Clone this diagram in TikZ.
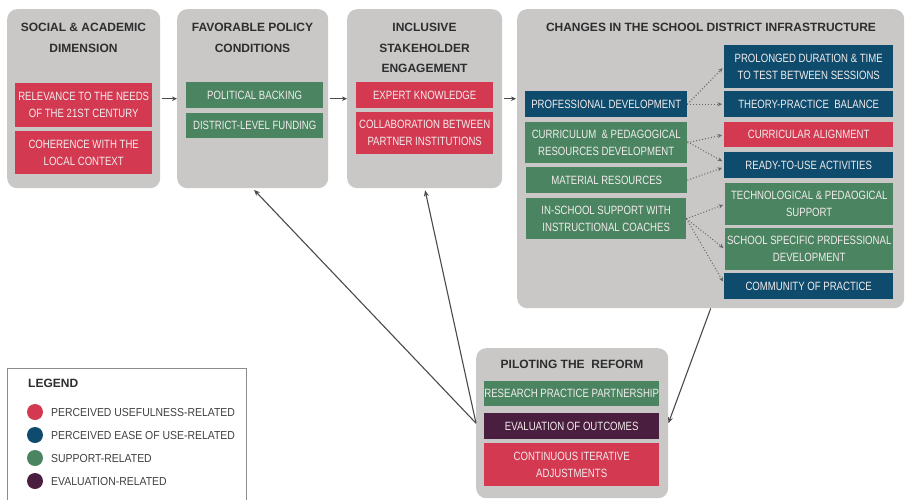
\documentclass[tikz,border=0pt]{standalone}
\usepackage{fontspec}
\setmainfont{Liberation Sans}
\newfontfamily\boxfont[FakeStretch=0.80]{Liberation Sans}
\newfontfamily\keyfont[FakeStretch=0.90]{Liberation Sans}
\usetikzlibrary{arrows.meta}

\definecolor{panelgray}{HTML}{C9C8C7}
\definecolor{usered}{HTML}{D33A51}
\definecolor{easeblue}{HTML}{0E4B6C}
\definecolor{supgreen}{HTML}{4A8461}
\definecolor{evalpurple}{HTML}{4A1E3F}
\definecolor{boxtext}{HTML}{F2ECEC}
\definecolor{titletext}{HTML}{2E2E2E}
\definecolor{linkgray}{HTML}{4A4A4A}

\tikzset{
  panel/.style={fill=panelgray, draw=none, rounded corners=10pt, anchor=north west, inner sep=0pt},
  paneltitle/.style={anchor=north, inner sep=0pt, align=center, text=titletext,
    font=\bfseries\fontsize{12}{20.5}\selectfont},
  tile/.style={anchor=north west, inner sep=0pt, align=center, text=boxtext,
    font=\boxfont\fontsize{12}{17}\selectfont},
  usebox/.style={tile, fill=usered},
  easebox/.style={tile, fill=easeblue},
  supbox/.style={tile, fill=supgreen},
  evalbox/.style={tile, fill=evalpurple},
  flow/.style={draw=linkgray, line width=1pt, -{Stealth[length=5pt,width=4.5pt]}},
  feed/.style={draw=linkgray, line width=1.1pt, -{Stealth[length=6pt,width=5pt]}},
  branch/.style={draw=linkgray!85, line width=1pt, dotted, -{Stealth[length=4.5pt,width=4pt]}},
  legtext/.style={anchor=west, inner sep=0pt, text=black!75, font=\keyfont\fontsize{11.6}{13}\selectfont},
  legdot/.style={circle, inner sep=0pt, minimum size=16pt, draw=none},
}

\begin{document}
\begin{tikzpicture}[x=1pt, y=-1pt]
\clip (0,0) rectangle (905,499);
\fill[white] (0,0) rectangle (905,499);

% ---- panels ----
\node[panel, minimum width=153pt, minimum height=179pt] (p1) at (7,9) {};
\node[panel, minimum width=151pt, minimum height=179pt] (p2) at (177,9) {};
\node[panel, minimum width=155pt, minimum height=179pt] (p3) at (347,9) {};
\node[panel, minimum width=387pt, minimum height=299pt] (p4) at (517,9) {};
\node[panel, minimum width=192pt, minimum height=150pt] (p5) at (476,348) {};

% ---- panel titles ----
\node[paneltitle] (t1) at (83.5,23) {SOCIAL \& ACADEMIC\\DIMENSION};
\node[paneltitle] (t2) at (252.5,23) {FAVORABLE POLICY\\CONDITIONS};
\node[paneltitle] (t3) at (424.5,23) {INCLUSIVE\\STAKEHOLDER\\ENGAGEMENT};
\node[paneltitle] (t4) at (711,23) {CHANGES IN THE SCHOOL DISTRICT INFRASTRUCTURE};
\node[paneltitle] (t5) at (572,360) {PILOTING THE \ REFORM};

% ---- social & academic dimension ----
\node[usebox, minimum width=137pt, minimum height=44pt] (relev) at (15,83) {RELEVANCE TO THE NEEDS\\OF THE 21ST CENTURY};
\node[usebox, minimum width=137pt, minimum height=43pt] (coher) at (15,131) {COHERENCE WITH THE\\LOCAL CONTEXT};

% ---- favorable policy conditions ----
\node[supbox, minimum width=137pt, minimum height=26pt] (polit) at (186,82) {POLITICAL BACKING};
\node[supbox, minimum width=137pt, minimum height=25pt] (fund) at (186,113) {DISTRICT-LEVEL FUNDING};

% ---- inclusive stakeholder engagement ----
\node[usebox, minimum width=137pt, minimum height=26pt] (expert) at (356,82) {EXPERT KNOWLEDGE};
\node[usebox, minimum width=137pt, minimum height=42pt] (collab) at (356,112) {COLLABORATION BETWEEN\\PARTNER INSTITUTIONS};

% ---- school district infrastructure: left column ----
\node[easebox, minimum width=162pt, minimum height=26pt] (profdev) at (525,91) {PROFESSIONAL DEVELOPMENT};
\node[supbox, minimum width=162pt, minimum height=41pt] (curric) at (525,122) {CURRICULUM \ \& PEDAGOGICAL\\RESOURCES DEVELOPMENT};
\node[supbox, minimum width=161pt, minimum height=26pt] (mater) at (526,167) {MATERIAL RESOURCES};
\node[supbox, minimum width=160pt, minimum height=41pt] (inschool) at (526,198) {IN-SCHOOL SUPPORT WITH\\INSTRUCTIONAL COACHES};

% ---- school district infrastructure: right column ----
\node[easebox, minimum width=169pt, minimum height=43pt] (prolong) at (724,45) {PROLONGED DURATION \& TIME\\TO TEST BETWEEN SESSIONS};
\node[easebox, minimum width=169pt, minimum height=26pt] (theory) at (724,91) {THEORY-PRACTICE \ BALANCE};
\node[usebox, minimum width=169pt, minimum height=25pt] (align) at (724,122) {CURRICULAR ALIGNMENT};
\node[easebox, minimum width=169pt, minimum height=26pt] (ready) at (724,152) {READY-TO-USE ACTIVITIES};
\node[supbox, minimum width=168pt, minimum height=42pt] (techsup) at (725,183) {TECHNOLOGICAL \& PEDAOGICAL\\SUPPORT};
\node[supbox, minimum width=168pt, minimum height=42pt] (schoolpd) at (725,228) {SCHOOL SPECIFIC PRDFESSIONAL\\DEVELOPMENT};
\node[easebox, minimum width=169pt, minimum height=26pt] (community) at (724,273) {COMMUNITY OF PRACTICE};

% ---- piloting the reform ----
\node[supbox, minimum width=175pt, minimum height=25pt] (rpp) at (484,381) {RESEARCH PRACTICE PARTNERSHIP};
\node[evalbox, minimum width=175pt, minimum height=26pt] (evalout) at (484,413) {EVALUATION OF OUTCOMES};
\node[usebox, minimum width=175pt, minimum height=43pt] (iter) at (484,443) {CONTINUOUS ITERATIVE\\ADJUSTMENTS};

% ---- main flow between panels ----
\draw[flow, shorten <=2pt] (p1.east) -- (p2.west);
\draw[flow, shorten <=2pt] (p2.east) -- (p3.west);
\draw[flow, shorten <=2pt, shorten >=1pt] (p3.east) -- (p3.east -| p4.west);

% ---- feedback from piloting ----
\draw[feed] (p4.south) -- (p5.east);
\draw[feed, shorten >=2pt] (p5.west) -- (p2.south);
\draw[feed, shorten >=2pt] (p5.west) -- (p3.south);

% ---- dotted branches ----
\draw[branch, shorten >=2pt] (profdev.east) -- (prolong.west);
\draw[branch, shorten >=2pt] (profdev.east) -- (theory.west);
\draw[branch, shorten >=2pt] (curric.east) -- (align.west);
\draw[branch, shorten >=2pt] ([yshift=1pt]curric.east) -- ([yshift=3pt]ready.west);
\draw[branch, shorten >=2pt] (mater.east) -- ([yshift=-2pt]ready.west);
\draw[branch, shorten >=2pt] (inschool.east) -- (techsup.west);
\draw[branch, shorten >=2pt] (inschool.east) -- (schoolpd.west);
\draw[branch, shorten >=2pt] (inschool.east) -- ([yshift=3pt]community.west);

% ---- legend ----
\node[draw=black!45, line width=0.8pt, anchor=north west, minimum width=239pt, minimum height=140pt, inner sep=0pt] (legend) at (7,368) {};
\node[anchor=west, inner sep=0pt, text=titletext, font=\bfseries\fontsize{12}{13}\selectfont] (legtitle) at (28,383) {LEGEND};
\node[legdot, fill=usered] (d1) at (35,412) {};
\node[legdot, fill=easeblue] (d2) at (35,435) {};
\node[legdot, fill=supgreen] (d3) at (35,458) {};
\node[legdot, fill=evalpurple] (d4) at (35,481) {};
\node[legtext] (l1) at (51,412) {PERCEIVED USEFULNESS-RELATED};
\node[legtext] (l2) at (51,435) {PERCEIVED EASE OF USE-RELATED};
\node[legtext] (l3) at (51,458) {SUPPORT-RELATED};
\node[legtext] (l4) at (51,481) {EVALUATION-RELATED};
\end{tikzpicture}
\end{document}
